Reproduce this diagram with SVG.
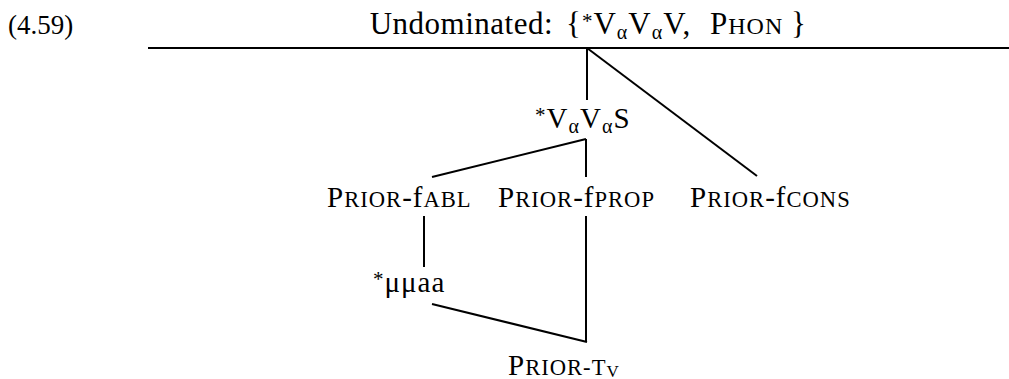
<svg xmlns="http://www.w3.org/2000/svg" width="1009" height="379" viewBox="0 0 1009 379">
<style>
text{font-family:"Liberation Serif","Times New Roman",serif;font-size:29px;fill:#000;letter-spacing:1px}
.title{font-size:31px}
.sc{font-size:22.6px}
.scT{font-size:24px}
.sub{font-size:20px}
.ast{font-size:21px}
.edge{stroke:#000;stroke-width:2;fill:none}
.rule{stroke:#000;stroke-width:2}
</style>
<rect width="1009" height="379" fill="#fff"/>
<g id="example-number"><text x="8" y="34" style="letter-spacing:0;font-size:27px">(4.59)</text></g>
<g id="undominated">
<text class="title" x="553" y="34" text-anchor="end" style="letter-spacing:0.5px">Undominated:</text>
<text class="title" y="34"><tspan x="566">{</tspan><tspan class="ast" dy="-6">*</tspan><tspan dy="6">V</tspan><tspan class="sub" dy="5">α</tspan><tspan dy="-5">V</tspan><tspan class="sub" dy="5">α</tspan><tspan dy="-5">V,</tspan><tspan x="710">P</tspan><tspan class="scT">HON</tspan><tspan x="791">}</tspan></text>
<line class="rule" x1="148" y1="48" x2="1009" y2="48"/>
</g>
<g id="connectors">
<line class="edge" x1="587" y1="48" x2="587" y2="100"/>
<line class="edge" x1="587" y1="48" x2="757" y2="176"/>
<line class="edge" x1="586" y1="139" x2="432" y2="177"/>
<line class="edge" x1="586" y1="139" x2="586" y2="177"/>
<line class="edge" x1="424" y1="216" x2="424" y2="267"/>
<line class="edge" x1="586" y1="216" x2="586" y2="342"/>
<line class="edge" x1="432" y1="304" x2="587" y2="342"/>
</g>
<g id="n-VVS"><text x="535" y="128"><tspan class="ast" dy="-6">*</tspan><tspan dy="6">V</tspan><tspan class="sub" dy="5">α</tspan><tspan dy="-5">V</tspan><tspan class="sub" dy="5">α</tspan><tspan dy="-5">S</tspan></text></g>
<g id="n-fabl"><text x="327" y="207">P<tspan class="sc">RIOR</tspan>-f<tspan class="sc">ABL</tspan></text></g>
<g id="n-fprop"><text x="498" y="207">P<tspan class="sc">RIOR</tspan>-f<tspan class="sc">PROP</tspan></text></g>
<g id="n-fcons"><text x="690" y="207">P<tspan class="sc">RIOR</tspan>-f<tspan class="sc">CONS</tspan></text></g>
<g id="n-mumuaa"><text x="373" y="292"><tspan class="ast" dy="-6">*</tspan><tspan dy="6">μμaa</tspan></text></g>
<g id="n-tv"><text x="508" y="375">P<tspan class="sc">RIOR-T</tspan><tspan class="sub" style="font-size:17px" dy="2">V</tspan></text></g>
</svg>
